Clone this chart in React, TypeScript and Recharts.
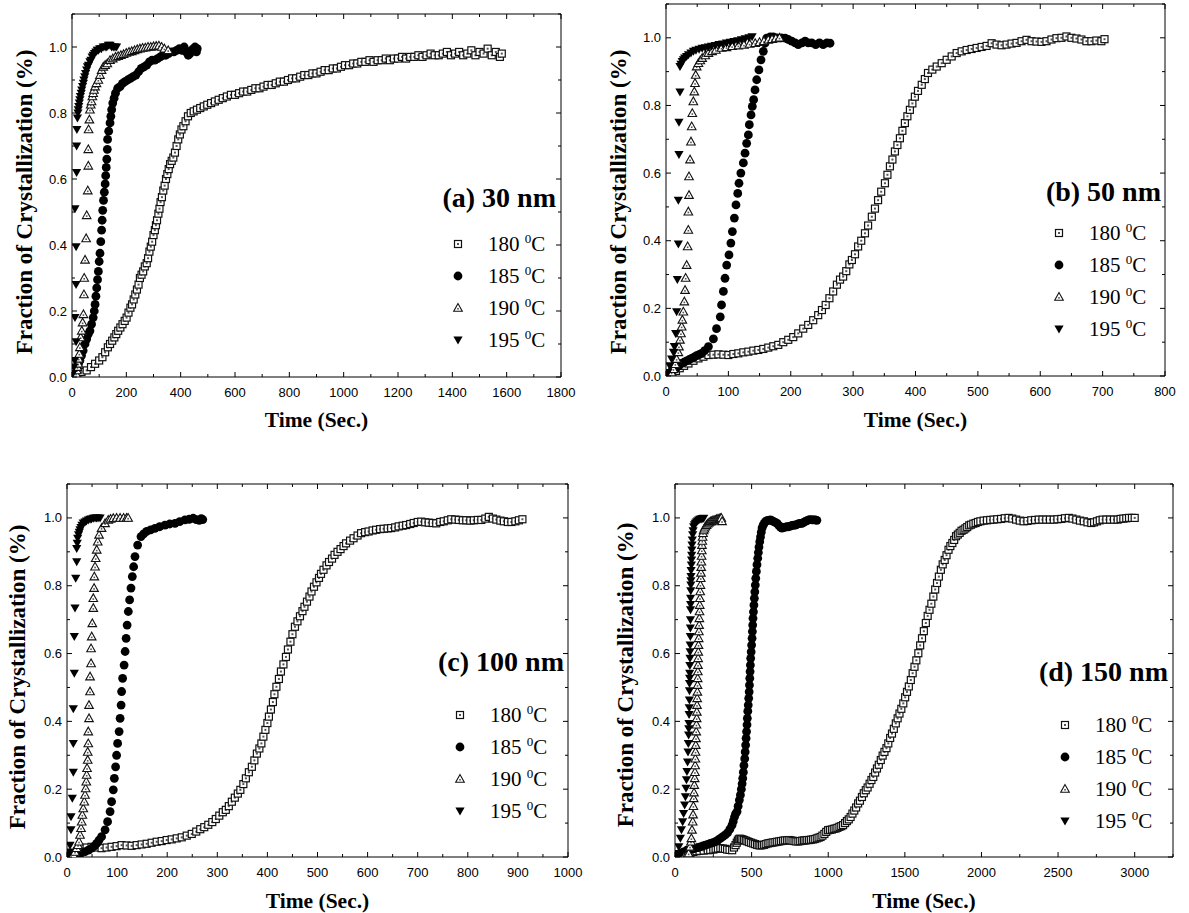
import React from 'react';
import { ScatterChart, Scatter, XAxis, YAxis } from 'recharts';

type Pt = [number, number];

// fraction of crystallization vs time (s)

// (a) 30 nm
const a180: Pt[] = [
  [8, 0.0], [20, 0.01], [35, 0.015], [54, 0.02], [70, 0.03], [85, 0.04], [100, 0.05], [112, 0.06], [122, 0.075], [132, 0.09],
  [140, 0.1], [148, 0.11], [156, 0.12], [163, 0.13], [170, 0.14], [178, 0.15], [186, 0.16], [194, 0.17], [201, 0.18], [208, 0.195],
  [215, 0.21], [221, 0.22], [227, 0.235], [233, 0.25], [239, 0.265], [245, 0.28], [250, 0.3], [256, 0.31], [262, 0.32], [268, 0.335],
  [275, 0.345], [280, 0.36], [285, 0.38], [290, 0.395], [295, 0.41], [300, 0.43], [305, 0.445], [309, 0.46], [313, 0.475], [318, 0.495],
  [322, 0.51], [326, 0.53], [331, 0.545], [336, 0.565], [341, 0.58], [346, 0.6], [351, 0.615], [356, 0.63], [361, 0.645], [367, 0.655],
  [373, 0.665], [379, 0.68], [385, 0.7], [391, 0.72], [397, 0.735], [403, 0.75], [410, 0.76], [418, 0.775], [427, 0.79], [437, 0.8],
  [448, 0.805], [460, 0.81], [472, 0.815], [485, 0.82], [498, 0.825], [512, 0.83], [526, 0.835], [540, 0.84], [555, 0.845], [570, 0.85],
  [585, 0.855], [600, 0.855], [615, 0.86], [630, 0.865], [645, 0.865], [660, 0.87], [675, 0.875], [690, 0.875], [705, 0.88], [720, 0.885],
  [735, 0.885], [750, 0.89], [765, 0.895], [780, 0.895], [795, 0.9], [810, 0.905], [825, 0.905], [840, 0.91], [855, 0.915], [870, 0.915],
  [885, 0.92], [900, 0.92], [915, 0.925], [930, 0.93], [945, 0.93], [960, 0.935], [975, 0.935], [990, 0.94], [1005, 0.945], [1020, 0.945],
  [1035, 0.95], [1050, 0.95], [1065, 0.955], [1080, 0.955], [1095, 0.96], [1110, 0.955], [1125, 0.96], [1140, 0.96], [1155, 0.965], [1170, 0.96],
  [1185, 0.965], [1200, 0.965], [1215, 0.97], [1230, 0.965], [1245, 0.97], [1260, 0.97], [1275, 0.975], [1290, 0.97], [1305, 0.975], [1320, 0.98],
  [1335, 0.975], [1350, 0.975], [1365, 0.98], [1380, 0.985], [1395, 0.975], [1410, 0.98], [1425, 0.985], [1440, 0.975], [1455, 0.98], [1470, 0.99],
  [1485, 0.975], [1500, 0.985], [1515, 0.98], [1530, 0.995], [1545, 0.975], [1560, 0.985], [1575, 0.97], [1582, 0.98],
];
const a185: Pt[] = [
  [5, 0.0], [11, 0.01], [18, 0.025], [24, 0.04], [29, 0.05], [35, 0.065], [41, 0.08], [48, 0.1], [54, 0.115], [60, 0.13],
  [66, 0.14], [72, 0.16], [78, 0.18], [82, 0.2], [85, 0.22], [88, 0.245], [91, 0.27], [94, 0.295], [97, 0.32], [100, 0.35],
  [103, 0.375], [106, 0.41], [109, 0.445], [111, 0.475], [113, 0.505], [116, 0.535], [119, 0.56], [122, 0.585], [124, 0.61], [126, 0.635],
  [128, 0.66], [130, 0.69], [131, 0.72], [135, 0.745], [140, 0.77], [143, 0.79], [146, 0.81], [150, 0.83], [155, 0.845], [160, 0.86],
  [168, 0.875], [177, 0.88], [186, 0.89], [195, 0.895], [205, 0.9], [215, 0.905], [225, 0.91], [235, 0.915], [245, 0.925], [255, 0.935],
  [265, 0.94], [275, 0.945], [285, 0.955], [295, 0.96], [305, 0.96], [315, 0.965], [325, 0.97], [335, 0.975], [345, 0.975], [355, 0.98],
  [365, 0.985], [375, 0.985], [385, 0.99], [395, 0.995], [405, 0.99], [413, 1.0], [420, 0.985], [428, 0.975], [434, 0.98], [440, 0.99],
  [447, 0.995], [453, 1.0], [458, 0.985], [461, 0.995],
];
const a190: Pt[] = [
  [4, 0.0], [8, 0.005], [12, 0.01], [15, 0.01], [18, 0.02], [20, 0.03], [23, 0.04], [25, 0.055], [27, 0.07], [29, 0.09],
  [32, 0.12], [36, 0.14], [39, 0.165], [42, 0.19], [44, 0.25], [45, 0.3], [48, 0.355], [52, 0.42], [54, 0.49], [58, 0.565],
  [60, 0.64], [60, 0.69], [61, 0.75], [64, 0.78], [66, 0.81], [69, 0.825], [72, 0.835], [75, 0.85], [78, 0.86], [81, 0.87],
  [85, 0.88], [90, 0.89], [97, 0.9], [103, 0.915], [109, 0.93], [115, 0.94], [122, 0.945], [130, 0.95], [140, 0.96], [150, 0.965],
  [160, 0.97], [170, 0.972], [180, 0.975], [190, 0.978], [200, 0.982], [210, 0.985], [220, 0.987], [230, 0.99], [240, 0.993], [250, 0.995],
  [260, 0.997], [270, 0.998], [280, 1.0], [290, 1.0], [300, 1.002], [310, 1.003], [320, 1.004], [330, 1.0], [340, 0.995], [354, 0.99],
];
const a195: Pt[] = [
  [3, 0.01], [7, 0.03], [10, 0.05], [15, 0.107], [11, 0.18], [15, 0.28], [15, 0.395], [11, 0.51], [17, 0.62], [17, 0.7],
  [18, 0.75], [20, 0.785], [22, 0.8], [23, 0.81], [25, 0.82], [27, 0.83], [29, 0.84], [31, 0.85], [34, 0.86], [36, 0.87],
  [39, 0.88], [42, 0.89], [44, 0.9], [47, 0.91], [50, 0.92], [54, 0.93], [57, 0.94], [61, 0.945], [66, 0.955], [70, 0.96],
  [74, 0.97], [78, 0.975], [83, 0.98], [88, 0.985], [93, 0.99], [97, 0.99], [102, 0.995], [108, 0.995], [115, 1.0], [122, 1.0],
  [128, 1.0], [134, 1.005], [140, 1.005], [146, 1.0], [152, 1.0], [158, 1.0], [164, 1.0],
];

// (b) 50 nm
const b180: Pt[] = [
  [3, 0.0], [10, 0.01], [16, 0.015], [22, 0.023], [29, 0.03], [36, 0.037], [44, 0.045], [52, 0.052], [60, 0.057], [68, 0.062],
  [76, 0.063], [84, 0.064], [92, 0.063], [100, 0.062], [108, 0.065], [116, 0.067], [124, 0.07], [132, 0.072], [140, 0.075], [148, 0.077],
  [156, 0.08], [164, 0.084], [172, 0.088], [180, 0.092], [188, 0.1], [196, 0.107], [204, 0.115], [212, 0.126], [220, 0.14], [228, 0.151],
  [236, 0.165], [244, 0.18], [250, 0.195], [256, 0.21], [262, 0.23], [268, 0.25], [274, 0.27], [279, 0.285], [284, 0.294], [289, 0.31],
  [294, 0.33], [298, 0.343], [303, 0.36], [308, 0.383], [313, 0.4], [319, 0.422], [324, 0.445], [330, 0.471], [335, 0.495], [340, 0.52],
  [345, 0.545], [351, 0.57], [355, 0.595], [359, 0.62], [363, 0.64], [367, 0.664], [371, 0.683], [375, 0.703], [379, 0.725], [383, 0.748],
  [387, 0.768], [391, 0.787], [395, 0.806], [399, 0.826], [404, 0.843], [410, 0.861], [415, 0.878], [420, 0.896], [427, 0.906], [434, 0.915],
  [442, 0.925], [450, 0.935], [458, 0.945], [466, 0.955], [474, 0.96], [482, 0.964], [490, 0.967], [498, 0.97], [506, 0.973], [514, 0.976],
  [522, 0.984], [530, 0.98], [538, 0.978], [546, 0.98], [554, 0.983], [562, 0.985], [570, 0.99], [578, 0.994], [586, 0.99], [594, 0.989],
  [602, 0.988], [610, 0.99], [618, 0.995], [626, 0.999], [634, 1.0], [642, 1.004], [650, 1.0], [658, 0.998], [666, 0.995], [674, 0.99],
  [682, 0.99], [690, 0.992], [698, 0.99], [703, 0.996],
];
const b185: Pt[] = [
  [3, 0.005], [7, 0.01], [10, 0.015], [14, 0.02], [17, 0.025], [21, 0.031], [25, 0.037], [29, 0.041], [33, 0.045], [37, 0.048],
  [41, 0.052], [45, 0.056], [49, 0.06], [53, 0.063], [57, 0.067], [62, 0.075], [68, 0.087], [76, 0.11], [81, 0.14], [87, 0.175],
  [89, 0.21], [92, 0.25], [94.6, 0.289], [97.3, 0.328], [101, 0.358], [104, 0.393], [106.4, 0.427], [109.6, 0.467], [112.2, 0.506], [115, 0.54],
  [117, 0.57], [120, 0.6], [124, 0.63], [126.7, 0.659], [129.3, 0.688], [132, 0.713], [133.6, 0.743], [136.3, 0.772], [138.4, 0.797], [140.5, 0.817],
  [142.7, 0.846], [145.4, 0.876], [149, 0.905], [152.3, 0.935], [156, 0.96], [158.7, 0.984], [161.4, 0.999], [167, 1.003], [172, 1.003], [178, 1.0],
  [185, 1.0], [191, 0.999], [196, 0.995], [201.5, 0.99], [207, 0.985], [212, 0.98], [218, 0.985], [223, 0.99], [228, 0.985], [233.6, 0.985],
  [240, 0.98], [246, 0.985], [252, 0.98], [258, 0.985], [263, 0.984],
];
const b190: Pt[] = [
  [5, 0.0], [9, 0.01], [12, 0.02], [15, 0.035], [17, 0.05], [19.8, 0.07], [20.8, 0.087], [22.4, 0.107], [24, 0.126], [25.1, 0.146],
  [26.2, 0.166], [27.8, 0.19], [29.4, 0.22], [30.5, 0.254], [31.5, 0.29], [33.1, 0.328], [34.7, 0.383], [35.8, 0.432], [35.8, 0.486], [36.9, 0.535],
  [36.9, 0.59], [38.5, 0.64], [40, 0.693], [41.2, 0.738], [42.2, 0.777], [43.8, 0.812], [45.4, 0.841], [46.5, 0.866], [47.6, 0.89], [49.2, 0.915],
  [52, 0.925], [55, 0.933], [58, 0.94], [63, 0.948], [68, 0.955], [74, 0.96], [80, 0.964], [89, 0.97], [97, 0.972], [106, 0.975],
  [116, 0.977], [125, 0.979], [134, 0.982], [143, 0.984], [150, 0.987], [157, 0.99], [164, 0.994], [170, 0.996], [176, 0.998], [182, 1.0],
];
const b195: Pt[] = [
  [3, 0.01], [6, 0.03], [9, 0.05], [12, 0.07], [13.4, 0.087], [15.5, 0.126], [17.1, 0.19], [18.2, 0.285], [19.8, 0.39], [19.8, 0.52],
  [20.8, 0.655], [20.8, 0.75], [22.4, 0.84], [22.4, 0.915], [24, 0.922], [26, 0.93], [28, 0.935], [30, 0.94], [33, 0.945], [36, 0.95],
  [40, 0.955], [44, 0.96], [48, 0.963], [53, 0.966], [58, 0.969], [63, 0.971], [68, 0.973], [73, 0.975], [79, 0.977], [85, 0.98],
  [91, 0.982], [97, 0.985], [103, 0.987], [109, 0.989], [115, 0.991], [121, 0.994], [127, 0.997], [133, 1.0], [138, 1.003],
];

// (c) 100 nm
const c180: Pt[] = [
  [4, 0.0], [12, 0.01], [20, 0.018], [29, 0.026], [39, 0.028], [49, 0.03], [59, 0.028], [69, 0.026], [79, 0.028], [89, 0.03],
  [99, 0.032], [109, 0.035], [119, 0.034], [129, 0.033], [139, 0.035], [149, 0.037], [159, 0.039], [169, 0.042], [179, 0.045], [189, 0.047],
  [199, 0.05], [209, 0.052], [219, 0.055], [229, 0.058], [239, 0.063], [249, 0.068], [258, 0.075], [266, 0.082], [274, 0.088], [282, 0.095],
  [290, 0.103], [297, 0.112], [304, 0.122], [311, 0.132], [317, 0.139], [323, 0.15], [329, 0.163], [335, 0.175], [341, 0.187], [346, 0.198],
  [352, 0.215], [357, 0.232], [363, 0.25], [369, 0.266], [374, 0.285], [379, 0.305], [384, 0.32], [388, 0.335], [392, 0.355], [396, 0.375],
  [400, 0.395], [403, 0.414], [407, 0.435], [411, 0.457], [414, 0.48], [418, 0.502], [423, 0.525], [427, 0.547], [432, 0.568], [437, 0.59],
  [441, 0.612], [446, 0.635], [450, 0.657], [455, 0.679], [460, 0.695], [465, 0.71], [470, 0.725], [474, 0.738], [479, 0.753], [484, 0.768],
  [488, 0.783], [493, 0.797], [498, 0.81], [503, 0.823], [507, 0.835], [512, 0.847], [518, 0.86], [523, 0.87], [529, 0.88], [534, 0.891],
  [540, 0.9], [546, 0.908], [552, 0.917], [557, 0.925], [565, 0.933], [572, 0.94], [580, 0.948], [587, 0.955], [595, 0.958], [602, 0.96],
  [610, 0.963], [617, 0.965], [625, 0.967], [632, 0.968], [640, 0.969], [647, 0.97], [655, 0.972], [662, 0.975], [670, 0.977], [677, 0.979],
  [685, 0.982], [692, 0.985], [700, 0.988], [707, 0.989], [715, 0.987], [722, 0.986], [730, 0.985], [737, 0.984], [745, 0.988], [752, 0.99],
  [760, 0.993], [767, 0.996], [775, 0.995], [782, 0.994], [790, 0.993], [797, 0.993], [805, 0.992], [812, 0.993], [820, 0.994], [827, 0.994],
  [835, 0.998], [842, 1.003], [850, 0.998], [857, 0.995], [865, 0.992], [872, 0.99], [880, 0.988], [887, 0.988], [895, 0.99], [902, 0.993],
  [909, 0.996],
];
const c185: Pt[] = [
  [8, 0.0], [18, 0.005], [27, 0.01], [36, 0.016], [43, 0.02], [49.3, 0.026], [55, 0.033], [59.3, 0.04], [64, 0.05], [69, 0.06],
  [76, 0.08], [81, 0.104], [86, 0.134], [89, 0.163], [92.4, 0.198], [94.5, 0.232], [97, 0.266], [99, 0.3], [101, 0.335], [104, 0.37],
  [106, 0.409], [108, 0.448], [109, 0.488], [111, 0.527], [114, 0.566], [116, 0.606], [118, 0.645], [120, 0.684], [122.4, 0.724], [125, 0.758],
  [127.7, 0.793], [130.4, 0.827], [133, 0.856], [135.7, 0.886], [141, 0.92], [147.7, 0.945], [153, 0.953], [159, 0.96], [167, 0.965], [175.6, 0.969],
  [185, 0.974], [195.6, 0.979], [205, 0.982], [215.6, 0.984], [225, 0.989], [235.5, 0.994], [244, 0.996], [252, 0.999], [258, 0.995], [264, 0.993],
  [268, 0.998], [271, 0.995],
];
const c190: Pt[] = [
  [6, 0.0], [12, 0.008], [16, 0.015], [19.4, 0.026], [22, 0.035], [24, 0.045], [26, 0.065], [28, 0.085], [29.3, 0.104], [30.6, 0.124],
  [32.5, 0.143], [34.5, 0.163], [36, 0.183], [37.3, 0.202], [38.5, 0.222], [39.3, 0.242], [40, 0.262], [41.3, 0.286], [41.3, 0.31], [42.5, 0.335],
  [42.5, 0.37], [43.9, 0.409], [43.9, 0.448], [46, 0.488], [46, 0.532], [48, 0.571], [48, 0.615], [49.3, 0.65], [50.5, 0.689], [52.5, 0.734],
  [52.5, 0.763], [54, 0.793], [54.5, 0.827], [56, 0.856], [57.3, 0.881], [59.3, 0.906], [61.3, 0.93], [64, 0.95], [69, 0.97], [76, 0.984],
  [82.4, 0.994], [87, 0.997], [92.4, 0.999], [99, 1.0], [106, 1.0], [113, 1.0], [119, 1.0], [122, 1.0],
];
const c195: Pt[] = [
  [2, 0.005], [4, 0.015], [6, 0.035], [8, 0.08], [8, 0.119], [10.6, 0.173], [12.6, 0.25], [12.6, 0.335], [12.6, 0.437], [14.6, 0.542],
  [14.6, 0.65], [16, 0.734], [17.4, 0.822], [19.4, 0.871], [19.4, 0.91], [20.5, 0.925], [21.3, 0.94], [23, 0.95], [24.5, 0.958], [26, 0.965],
  [28, 0.972], [30, 0.978], [32.5, 0.985], [36, 0.988], [39, 0.991], [42.5, 0.994], [46, 0.996], [49, 0.997], [52.5, 0.999], [56, 1.0],
  [59, 1.0], [62, 1.0], [66, 1.0],
];

// (d) 150 nm
const d180: Pt[] = [
  [10, 0.0], [25, 0.003], [40, 0.005], [60, 0.008], [80, 0.01], [100, 0.012], [120, 0.015], [140, 0.017], [160, 0.018], [187, 0.019],
  [214, 0.02], [230, 0.021], [250, 0.022], [265, 0.024], [280, 0.025], [296, 0.026], [312, 0.025], [326, 0.024], [340, 0.022], [356, 0.021],
  [373, 0.02], [385, 0.028], [395, 0.035], [403, 0.042], [410, 0.048], [416, 0.052], [422, 0.054], [431, 0.053], [440, 0.052], [451, 0.05],
  [462, 0.048], [473, 0.046], [484, 0.044], [497, 0.042], [510, 0.04], [522, 0.038], [535, 0.036], [546, 0.035], [557, 0.034], [568, 0.035],
  [580, 0.036], [592, 0.038], [605, 0.04], [617, 0.041], [630, 0.042], [642, 0.043], [655, 0.044], [667, 0.045], [680, 0.046], [692, 0.047],
  [705, 0.048], [717, 0.049], [730, 0.049], [742, 0.05], [754, 0.049], [767, 0.048], [780, 0.047], [792, 0.046], [805, 0.046], [817, 0.047],
  [830, 0.048], [841, 0.049], [852, 0.049], [863, 0.05], [875, 0.05], [887, 0.051], [900, 0.052], [912, 0.053], [925, 0.055], [937, 0.057],
  [950, 0.059], [962, 0.063], [975, 0.068], [987, 0.074], [999, 0.079], [1011, 0.08], [1024, 0.081], [1036, 0.083], [1048, 0.084], [1060, 0.086],
  [1073, 0.089], [1085, 0.091], [1097, 0.094], [1110, 0.1], [1122, 0.106], [1134, 0.111], [1146, 0.118], [1158, 0.128], [1170, 0.137], [1182, 0.146],
  [1195, 0.158], [1207, 0.166], [1220, 0.177], [1232, 0.188], [1245, 0.197], [1257, 0.205], [1270, 0.216], [1282, 0.227], [1294, 0.236], [1306, 0.249],
  [1318, 0.261], [1330, 0.272], [1343, 0.286], [1355, 0.299], [1367, 0.31], [1380, 0.321], [1392, 0.335], [1404, 0.351], [1416, 0.364], [1428, 0.378],
  [1441, 0.394], [1453, 0.409], [1465, 0.423], [1477, 0.437], [1490, 0.453], [1502, 0.471], [1514, 0.487], [1526, 0.503], [1539, 0.522], [1551, 0.542],
  [1563, 0.561], [1575, 0.58], [1588, 0.601], [1600, 0.624], [1612, 0.645], [1624, 0.666], [1637, 0.69], [1649, 0.711], [1661, 0.729], [1673, 0.747],
  [1686, 0.768], [1698, 0.789], [1710, 0.808], [1722, 0.827], [1735, 0.847], [1747, 0.863], [1760, 0.876], [1772, 0.89], [1785, 0.906], [1797, 0.917],
  [1810, 0.926], [1822, 0.935], [1834, 0.946], [1846, 0.951], [1858, 0.956], [1870, 0.962], [1883, 0.965], [1895, 0.969], [1907, 0.973], [1920, 0.978],
  [1932, 0.98], [1947, 0.983], [1962, 0.985], [1977, 0.988], [1993, 0.99], [2014, 0.992], [2036, 0.993], [2057, 0.994], [2079, 0.995], [2103, 0.996],
  [2128, 0.997], [2152, 0.999], [2177, 1.0], [2201, 0.998], [2226, 0.995], [2250, 0.992], [2275, 0.99], [2300, 0.991], [2325, 0.993], [2350, 0.994],
  [2374, 0.995], [2398, 0.995], [2423, 0.995], [2447, 0.995], [2472, 0.995], [2496, 0.996], [2521, 0.997], [2545, 0.999], [2570, 1.0], [2594, 0.998],
  [2619, 0.995], [2643, 0.992], [2668, 0.99], [2692, 0.987], [2717, 0.985], [2735, 0.987], [2754, 0.99], [2772, 0.993], [2791, 0.995], [2815, 0.995],
  [2840, 0.995], [2865, 0.995], [2889, 0.995], [2908, 0.997], [2926, 0.998], [2945, 0.999], [2963, 1.0], [2982, 1.0], [3000, 1.0],
];
const d185: Pt[] = [
  [30, 0.01], [55, 0.015], [78, 0.02], [100, 0.022], [118, 0.024], [133, 0.026], [150, 0.028], [165, 0.03], [182, 0.033], [198, 0.035],
  [214, 0.037], [230, 0.04], [247, 0.042], [263, 0.045], [280, 0.05], [296, 0.055], [312, 0.06], [328, 0.065], [344, 0.072], [358, 0.082],
  [372, 0.094], [380, 0.105], [388, 0.118], [395, 0.127], [405, 0.134], [412, 0.15], [420, 0.168], [427, 0.183], [433, 0.2], [438, 0.216],
  [442, 0.232], [446, 0.25], [450, 0.27], [455, 0.29], [458, 0.31], [461, 0.33], [464, 0.35], [467, 0.37], [470, 0.39], [472, 0.409],
  [475, 0.43], [478, 0.448], [481, 0.468], [484, 0.487], [486, 0.507], [488, 0.527], [490, 0.547], [492, 0.566], [494, 0.586], [497, 0.605],
  [500, 0.625], [503, 0.645], [505, 0.665], [507, 0.684], [509, 0.704], [512, 0.723], [515, 0.743], [518, 0.763], [521, 0.782], [524, 0.802],
  [527, 0.822], [531, 0.842], [535, 0.862], [540, 0.881], [544, 0.898], [548, 0.914], [553, 0.93], [558, 0.944], [563, 0.958], [568, 0.97],
  [575, 0.978], [582, 0.984], [590, 0.989], [600, 0.992], [611, 0.993], [622, 0.994], [633, 0.992], [644, 0.989], [655, 0.987], [666, 0.984],
  [677, 0.978], [688, 0.973], [698, 0.97], [710, 0.972], [720, 0.973], [731, 0.974], [742, 0.974], [753, 0.976], [764, 0.978], [775, 0.979],
  [785, 0.979], [796, 0.981], [807, 0.983], [818, 0.984], [829, 0.984], [840, 0.987], [851, 0.99], [862, 0.992], [873, 0.994], [884, 0.995],
  [895, 0.994], [906, 0.994], [916, 0.994], [926, 0.993],
];
const d190: Pt[] = [
  [60, 0.0], [75, 0.005], [89, 0.01], [98, 0.03], [104, 0.045], [107, 0.055], [111, 0.08], [115.5, 0.104], [118, 0.125], [120, 0.15],
  [122, 0.173], [124, 0.19], [126, 0.212], [128.5, 0.232], [130, 0.25], [131.5, 0.27], [133, 0.29], [134, 0.31], [135.5, 0.33], [137, 0.35],
  [138.5, 0.37], [140, 0.39], [141.5, 0.409], [142.5, 0.428], [143.6, 0.448], [144.5, 0.468], [146, 0.487], [147, 0.507], [148, 0.527], [149, 0.547],
  [150, 0.566], [151, 0.586], [152, 0.605], [153.5, 0.625], [154.6, 0.645], [156, 0.665], [157.5, 0.684], [159, 0.704], [160, 0.724], [161.5, 0.743],
  [163, 0.763], [164.5, 0.783], [166, 0.802], [168, 0.822], [169.5, 0.838], [171, 0.855], [172, 0.871], [173.5, 0.888], [175, 0.904], [176, 0.92],
  [178, 0.932], [180, 0.944], [183, 0.955], [187, 0.963], [192, 0.968], [198, 0.974], [206, 0.979], [214, 0.983], [222, 0.986], [230, 0.989],
  [238, 0.99], [247, 0.992], [255, 0.993], [263, 0.994], [272, 0.996], [280, 0.997], [288, 0.998], [296, 0.999], [302, 1.0], [307, 0.99],
];
const d195: Pt[] = [
  [5, 0.0], [15, 0.01], [25, 0.03], [35, 0.055], [42, 0.08], [50, 0.104], [56, 0.128], [63, 0.153], [68, 0.178], [72, 0.203],
  [75, 0.228], [78, 0.252], [82, 0.28], [85, 0.31], [87, 0.335], [89, 0.36], [90, 0.378], [91, 0.394], [92, 0.42], [93, 0.44],
  [94, 0.463], [94.5, 0.49], [95, 0.512], [95.5, 0.527], [96, 0.542], [97, 0.565], [98, 0.586], [98.5, 0.605], [99, 0.625], [100, 0.65],
  [100.5, 0.675], [101, 0.7], [101.5, 0.729], [102, 0.745], [102, 0.763], [103, 0.785], [103.5, 0.802], [104, 0.815], [104.5, 0.827], [105, 0.845],
  [107, 0.861], [108, 0.876], [109, 0.89], [110, 0.905], [111, 0.92], [113, 0.935], [115.5, 0.95], [118, 0.962], [122, 0.974], [127, 0.98],
  [133, 0.984], [140, 0.988], [147, 0.991], [155, 0.994], [163, 0.996], [171, 0.997], [179, 0.998], [187, 0.999],
];

const temps = ['180', '185', '190', '195'];
const yTicks = [0, 0.1, 0.2, 0.3, 0.4, 0.5, 0.6, 0.7, 0.8, 0.9, 1.0, 1.1];
const xTicksA = [0, 100, 200, 300, 400, 500, 600, 700, 800, 900, 1000, 1100, 1200, 1300, 1400, 1500, 1600, 1700, 1800];
const xTicksB = [0, 50, 100, 150, 200, 250, 300, 350, 400, 450, 500, 550, 600, 650, 700, 750, 800];
const xTicksC = [0, 50, 100, 150, 200, 250, 300, 350, 400, 450, 500, 550, 600, 650, 700, 750, 800, 850, 900, 950, 1000];
const xTicksD = [0, 250, 500, 750, 1000, 1250, 1500, 1750, 2000, 2250, 2500, 2750, 3000, 3250];

const SERIF = "'Liberation Serif', 'Times New Roman', serif";
const SANS = "'Liberation Sans', Arial, sans-serif";

// markers
const Square = ({ cx, cy }: any) => (
  <g>
    <rect x={cx - 3.5} y={cy - 3.5} width={7} height={7} fill="#fff" stroke="#111" strokeWidth={1.2} />
    <rect x={cx - 1} y={cy - 1} width={2} height={2} fill="#555" />
  </g>
);
const Dot = ({ cx, cy }: any) => <circle cx={cx} cy={cy} r={4.4} fill="#000" />;
const UpTri = ({ cx, cy }: any) => (
  <g>
    <polygon points={`${cx},${cy - 4.4} ${cx - 4.3},${cy + 3.3} ${cx + 4.3},${cy + 3.3}`} fill="#fff" stroke="#111" strokeWidth={1.1} />
    <rect x={cx - 0.8} y={cy} width={1.6} height={1.6} fill="#555" />
  </g>
);
const DownTri = ({ cx, cy }: any) => (
  <polygon points={`${cx - 4.6},${cy - 3.5} ${cx + 4.6},${cy - 3.5} ${cx},${cy + 4.5}`} fill="#000" />
);
const markers = [Square, Dot, UpTri, DownTri];

const isMajor = (v: number, step: number) => Math.abs(v / step - Math.round(v / step)) < 1e-6;

// inward ticks on all four sides, labels only on bottom/left
const xTick = (step: number, side: 'bottom' | 'top') => (props: any) => {
  const { x, y, payload } = props;
  const v = payload.value;
  const major = isMajor(v, step);
  const len = major ? 5 : 3;
  const dir = side === 'bottom' ? -1 : 1;
  return (
    <g>
      <line x1={x} y1={y} x2={x} y2={y + dir * len} stroke="#000" strokeWidth={1} />
      {side === 'bottom' && major && (
        <text x={x} y={y + 20} textAnchor="middle" fontFamily={SANS} fontSize={13} fill="#000">
          {v}
        </text>
      )}
    </g>
  );
};

const yTick = (side: 'left' | 'right') => (props: any) => {
  const { x, y, payload } = props;
  const v = payload.value;
  const major = isMajor(v, 0.2);
  const len = major ? 5 : 3;
  const dir = side === 'left' ? 1 : -1;
  return (
    <g>
      <line x1={x} y1={y} x2={x + dir * len} y2={y} stroke="#000" strokeWidth={1} />
      {side === 'left' && major && (
        <text x={x - 5} y={y + 4.5} textAnchor="end" fontFamily={SANS} fontSize={13} fill="#000">
          {v.toFixed(1)}
        </text>
      )}
    </g>
  );
};

interface PanelDef {
  label: string;
  series: Pt[][];
  xMax: number;
  xTicks: number[];
  xStep: number;
  plot: { x: number; y: number; w: number; h: number };
  yTitle: { x: number; y: number };
  xTitleY: number;
  tag: { right: number; y: number };
  legend: { x: number; y: number };
}

const panels: PanelDef[] = [
  {
    label: '(a) 30 nm', series: [a180, a185, a190, a195], xMax: 1800, xTicks: xTicksA, xStep: 200,
    plot: { x: 72, y: 14, w: 489, h: 363 }, yTitle: { x: 24, y: 202 }, xTitleY: 421,
    tag: { right: 556, y: 198 }, legend: { x: 458, y: 244 },
  },
  {
    label: '(b) 50 nm', series: [b180, b185, b190, b195], xMax: 800, xTicks: xTicksB, xStep: 100,
    plot: { x: 666, y: 4, w: 499, h: 372 }, yTitle: { x: 618, y: 202 }, xTitleY: 421,
    tag: { right: 1161, y: 192 }, legend: { x: 1059, y: 233 },
  },
  {
    label: '(c) 100 nm', series: [c180, c185, c190, c195], xMax: 1000, xTicks: xTicksC, xStep: 100,
    plot: { x: 67, y: 484, w: 501, h: 373 }, yTitle: { x: 17, y: 677 }, xTitleY: 902,
    tag: { right: 564, y: 662 }, legend: { x: 460, y: 715 },
  },
  {
    label: '(d) 150 nm', series: [d180, d185, d190, d195], xMax: 3250, xTicks: xTicksD, xStep: 500,
    plot: { x: 675, y: 484, w: 498, h: 373 }, yTitle: { x: 625, y: 675 }, xTitleY: 902,
    tag: { right: 1168, y: 672 }, legend: { x: 1065, y: 725 },
  },
];

// space around the plot box inside each chart; every axis is 1px thick
const ML = 60, MR = 26, MT = 4, MB = 30;

const toPts = (s: Pt[]) => s.map(([x, y]) => ({ x, y }));

function Panel({ p }: { p: PanelDef }) {
  const { plot } = p;
  return (
    <>
      <div style={{ position: 'absolute', left: plot.x - ML, top: plot.y - MT }}>
        <ScatterChart
          width={plot.w + ML + MR}
          height={plot.h + MT + MB}
          margin={{ top: MT - 1, right: MR - 1, bottom: MB - 1, left: ML - 1 }}
        >
          <XAxis xAxisId="b" type="number" dataKey="x" domain={[0, p.xMax]} ticks={p.xTicks} interval={0}
            allowDataOverflow height={1} tickSize={0} tickMargin={0} tickLine={false} stroke="#000"
            tick={xTick(p.xStep, 'bottom')} />
          <XAxis xAxisId="t" orientation="top" type="number" dataKey="x" domain={[0, p.xMax]} ticks={p.xTicks} interval={0}
            allowDataOverflow height={1} tickSize={0} tickMargin={0} tickLine={false} stroke="#000"
            tick={xTick(p.xStep, 'top')} />
          <YAxis yAxisId="l" type="number" dataKey="y" domain={[0, 1.1]} ticks={yTicks} interval={0}
            allowDataOverflow width={1} tickSize={0} tickMargin={0} tickLine={false} stroke="#000"
            tick={yTick('left')} />
          <YAxis yAxisId="r" orientation="right" type="number" dataKey="y" domain={[0, 1.1]} ticks={yTicks} interval={0}
            allowDataOverflow width={1} tickSize={0} tickMargin={0} tickLine={false} stroke="#000"
            tick={yTick('right')} />
          {p.series.map((s, i) => (
            <Scatter key={temps[i]} name={`${temps[i]} °C`} xAxisId="b" yAxisId="l" data={toPts(s)}
              shape={markers[i]} isAnimationActive={false} />
          ))}
        </ScatterChart>
      </div>

      <div style={{
        position: 'absolute', left: p.yTitle.x, top: p.yTitle.y, transform: 'translate(-50%, -50%) rotate(-90deg)',
        fontFamily: SERIF, fontWeight: 'bold', fontSize: 23, whiteSpace: 'nowrap', lineHeight: 1,
      }}>
        Fraction of Crystallization (%)
      </div>
      <div style={{
        position: 'absolute', left: plot.x + plot.w / 2, top: p.xTitleY, transform: 'translate(-50%, -50%)',
        fontFamily: SERIF, fontWeight: 'bold', fontSize: 21.5, whiteSpace: 'nowrap', lineHeight: 1,
      }}>
        Time (Sec.)
      </div>
      <div style={{
        position: 'absolute', left: p.tag.right, top: p.tag.y, transform: 'translate(-100%, -50%)',
        fontFamily: SERIF, fontWeight: 'bold', fontSize: 28, whiteSpace: 'nowrap', lineHeight: 1,
      }}>
        {p.label}
      </div>

      {temps.map((t, i) => {
        const M = markers[i];
        const cy = p.legend.y + i * 32;
        return (
          <React.Fragment key={t}>
            <svg style={{ position: 'absolute', left: p.legend.x - 7, top: cy - 7 }} width={14} height={14}>
              <M cx={7} cy={7} />
            </svg>
            <div style={{
              position: 'absolute', left: p.legend.x + 30, top: cy, transform: 'translateY(-50%)',
              fontFamily: SERIF, fontSize: 21, whiteSpace: 'nowrap', lineHeight: 1,
            }}>
              {t + ' '}
              <span style={{ fontSize: '0.62em', position: 'relative', top: '-0.6em' }}>0</span>C
            </div>
          </React.Fragment>
        );
      })}
    </>
  );
}

export default function App() {
  return (
    <div style={{
      position: 'absolute', left: 0, top: 0, width: 1189, height: 913, overflow: 'hidden',
      background: '#fff', color: '#000',
    }}>
      {panels.map((p) => (
        <Panel key={p.label} p={p} />
      ))}
    </div>
  );
}
